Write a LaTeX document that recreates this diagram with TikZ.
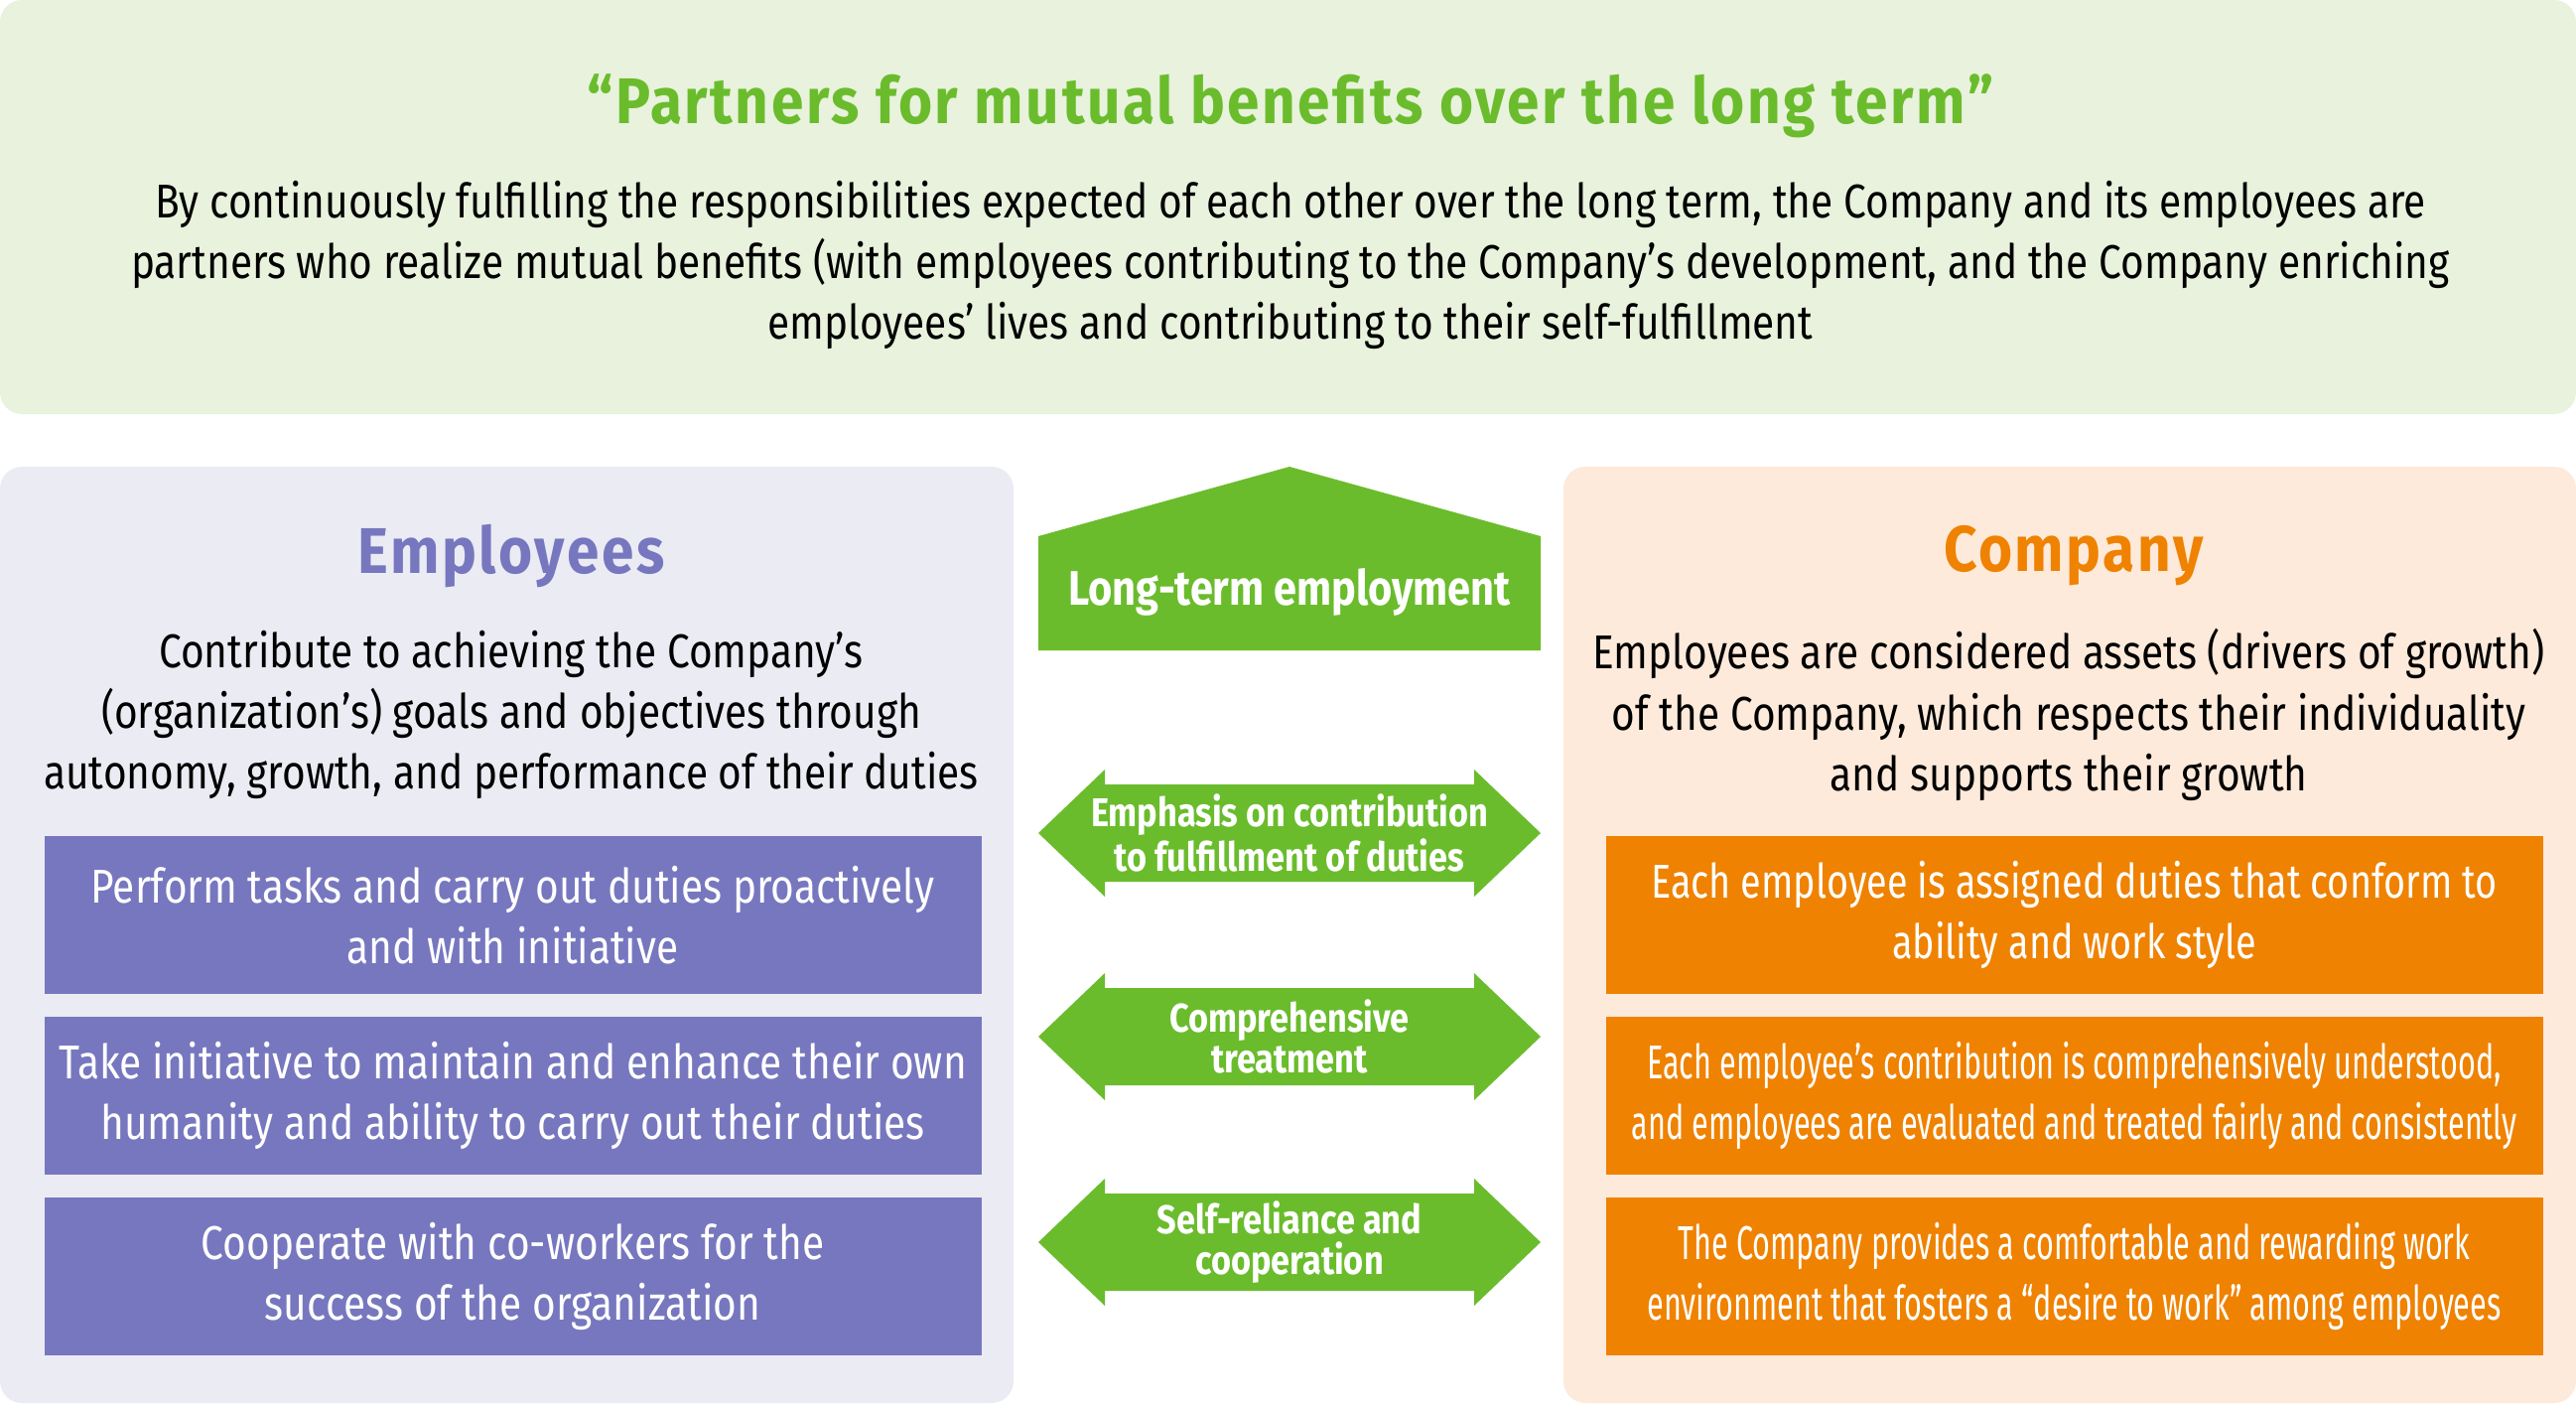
\documentclass[tikz,border=0pt]{standalone}
\usepackage{fontspec}
\setmainfont{Fira Sans}[FakeStretch=0.85]
\newfontfamily\semifont{Fira Sans}[FakeStretch=0.79]
\newfontfamily\narrowfont{Fira Sans}[FakeStretch=0.64]
\newfontfamily\spacedfont{Fira Sans}[FakeStretch=0.9,LetterSpace=4]
\usepackage{tikz}
\usetikzlibrary{positioning}

\definecolor{topbg}{HTML}{E8F2DC}
\definecolor{leafgreen}{HTML}{6ABC2C}
\definecolor{lavender}{HTML}{EBEBF4}
\definecolor{empviolet}{HTML}{7777BF}
\definecolor{peach}{HTML}{FDEADA}
\definecolor{comporange}{HTML}{EF8200}

\begin{document}
\begin{tikzpicture}[
  x=0.1mm, y=-0.1mm,
  % Node styles
  panel/.style={
    rectangle,
    rounded corners=2.2mm,
    inner sep=0pt,
  },
  heading/.style={
    font=\spacedfont\bfseries\fontsize{18.5}{22}\selectfont,
  },
  bodytext/.style={
    align=center,
    text=black,
    font=\fontsize{13.6}{17.4}\selectfont,
  },
  dutybox/.style={
    rectangle,
    minimum width=94.4mm,
    minimum height=15.9mm,
    inner sep=0pt,
    align=center,
    text=white,
    font=\fontsize{13.6}{17.4}\selectfont,
  },
  arrowtext/.style={
    align=center,
    text=white,
    font=\bfseries\fontsize{11.5}{11.6}\selectfont,
  },
]
\useasboundingbox (0,0) rectangle (2595,1415);

% ── Top: shared principle ──
\node[panel, fill=topbg, minimum width=259.5mm, minimum height=41.7mm] (toppanel) at (1297.5,208.5) {};
\node[heading, text=leafgreen] (motto) at (1300,107) {“Partners for mutual benefits over the long term”};
\node[bodytext] (principle) at (1300,267) {By continuously fulfilling the responsibilities expected of each other over the long term, the Company and its employees are\\
  partners who realize mutual benefits (with employees contributing to the Company’s development, and the Company enriching\\
  employees’ lives and contributing to their self-fulfillment};

% ── Left: Employees ──
\node[panel, fill=lavender, minimum width=102.1mm, minimum height=94.3mm] (emppanel) at (510.5,941.5) {};
\node[heading, text=empviolet] (emptitle) at (515,560) {Employees};
\node[bodytext] (empdesc) at (515,720) {Contribute to achieving the Company’s\\
  (organization’s) goals and objectives through\\
  autonomy, growth, and performance of their duties};
\node[dutybox, fill=empviolet] (emp1) at (516.5,921.5) {Perform tasks and carry out duties proactively\\and with initiative};
\node[dutybox, fill=empviolet] (emp2) at (516.5,1103.5) {Take initiative to maintain and enhance their own\\humanity and ability to carry out their duties};
\node[dutybox, fill=empviolet] (emp3) at (516.5,1285.5) {Cooperate with co-workers for the\\success of the organization};

% ── Right: Company ──
\node[panel, fill=peach, minimum width=102mm, minimum height=94.3mm] (comppanel) at (2085,941.5) {};
\node[heading, text=comporange] (comptitle) at (2089,560) {Company};
\node[bodytext] (compdesc) at (2084,720) {Employees are considered assets (drivers of growth)\\
  of the Company, which respects their individuality\\
  and supports their growth};
\node[dutybox, fill=comporange, font=\semifont\fontsize{13.6}{17.4}\selectfont] (comp1) at (2089.5,921.5) {Each employee is assigned duties that conform to\\ability and work style};
\node[dutybox, fill=comporange, font=\narrowfont\fontsize{13.6}{17.4}\selectfont] (comp2) at (2089.5,1103.5) {Each employee’s contribution is comprehensively understood,\\and employees are evaluated and treated fairly and consistently};
\node[dutybox, fill=comporange, font=\narrowfont\fontsize{13.6}{17.4}\selectfont] (comp3) at (2089.5,1285.5) {The Company provides a comfortable and rewarding work\\environment that fosters a “desire to work” among employees};

% ── Centre: long-term employment ──
\fill[leafgreen] (1046,655) -- (1046,540) -- (1299,470) -- (1552,540) -- (1552,655) -- cycle;
\node[arrowtext, font=\bfseries\fontsize{13.9}{15}\selectfont] (longterm) at (1299,596) {Long-term employment};

% ── Centre: two-way arrows ──
\foreach \y/\name/\txt in {839/emphasis/{Emphasis on contribution\\to fulfillment of duties},
                           1044/treatment/{Comprehensive\\treatment},
                           1251/selfreliance/{Self-reliance and\\cooperation}} {
  \fill[leafgreen] (1046,\y) -- (1113,\y-64) -- (1113,\y-49) -- (1485,\y-49) -- (1485,\y-64)
    -- (1552,\y) -- (1485,\y+64) -- (1485,\y+49) -- (1113,\y+49) -- (1113,\y+64) -- cycle;
  \node[arrowtext] (\name) at (1299,\y) {\txt};
}

\end{tikzpicture}
\end{document}
